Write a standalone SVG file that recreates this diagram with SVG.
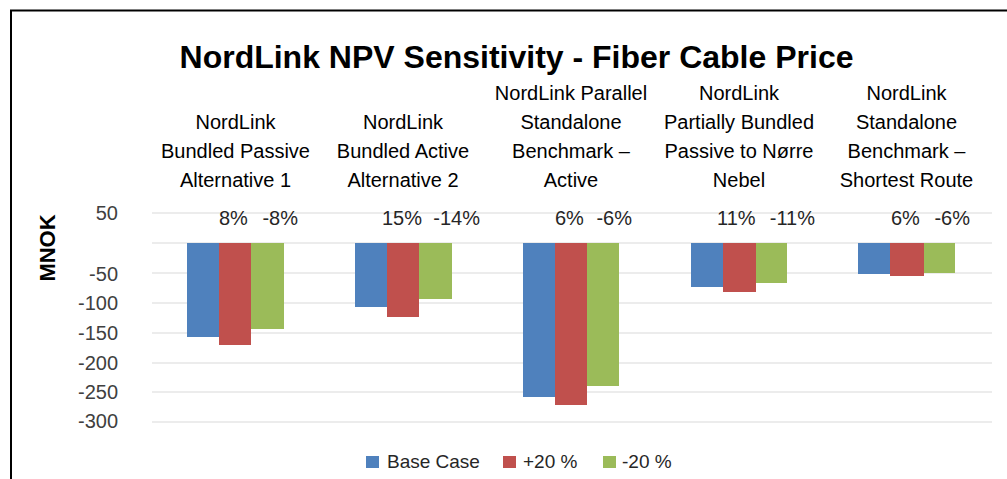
<svg xmlns="http://www.w3.org/2000/svg" width="1007" height="479" viewBox="0 0 1007 479">
<style>
text{font-family:"Liberation Sans",Arial,sans-serif;fill:#262626}
.t{font-size:32px;font-weight:bold;fill:#000}
.ax{font-size:22px;font-weight:bold;fill:#000}
.yl{font-size:20px;text-anchor:end;fill:#404040}
.cl{font-size:20px;text-anchor:middle;fill:#000}
.pc{font-size:20px;fill:#262626}
.lg{font-size:19px;fill:#262626}
.grid line{stroke:#D9D9D9;stroke-width:1.2}
.b{fill:#4F81BD}.r{fill:#C0504D}.g{fill:#9BBB59}
</style>
<rect x="0" y="0" width="1007" height="479" fill="#fff"/>
<path d="M11,479 V10.5 H1007" fill="none" stroke="#000" stroke-width="2"/>
<text class="t" x="516.5" y="68" text-anchor="middle">NordLink NPV Sensitivity - Fiber Cable Price</text>
<text class="ax" transform="translate(55,248) rotate(-90)" text-anchor="middle">MNOK</text>
<g class="grid">
<line x1="152" y1="213" x2="992" y2="213"/>
<line x1="152" y1="243" x2="992" y2="243"/>
<line x1="152" y1="273" x2="992" y2="273"/>
<line x1="152" y1="303" x2="992" y2="303"/>
<line x1="152" y1="333" x2="992" y2="333"/>
<line x1="152" y1="363" x2="992" y2="363"/>
<line x1="152" y1="392" x2="992" y2="392"/>
<line x1="152" y1="422" x2="992" y2="422"/>
</g>
<g id="yaxis">
<text class="yl" x="118" y="220">50</text>
<text class="yl" x="118" y="281">-50</text>
<text class="yl" x="118" y="310">-100</text>
<text class="yl" x="118" y="340">-150</text>
<text class="yl" x="118" y="370">-200</text>
<text class="yl" x="118" y="399">-250</text>
<text class="yl" x="118" y="428">-300</text>
</g>
<g id="group1">
<rect class="b" x="187" y="243" width="32" height="94"/>
<rect class="r" x="219" y="243" width="32" height="102"/>
<rect class="g" x="251" y="243" width="33" height="86"/>
<text class="cl" x="235.5" y="129">NordLink</text>
<text class="cl" x="235.5" y="158">Bundled Passive</text>
<text class="cl" x="235.5" y="187">Alternative 1</text>
<text class="pc" x="219" y="225">8%</text>
<text class="pc" x="298" y="225" text-anchor="end">-8%</text>
</g>
<g id="group2">
<rect class="b" x="355" y="243" width="32" height="64"/>
<rect class="r" x="387" y="243" width="32" height="74"/>
<rect class="g" x="419" y="243" width="33" height="56"/>
<text class="cl" x="403" y="129">NordLink</text>
<text class="cl" x="403" y="158">Bundled Active</text>
<text class="cl" x="403" y="187">Alternative 2</text>
<text class="pc" x="382" y="225">15%</text>
<text class="pc" x="480" y="225" text-anchor="end">-14%</text>
</g>
<g id="group3">
<rect class="b" x="523" y="243" width="32" height="154"/>
<rect class="r" x="555" y="243" width="32" height="162"/>
<rect class="g" x="587" y="243" width="32" height="143"/>
<text class="cl" x="571" y="100">NordLink Parallel</text>
<text class="cl" x="571" y="129">Standalone</text>
<text class="cl" x="571" y="158">Benchmark –</text>
<text class="cl" x="571" y="187">Active</text>
<text class="pc" x="555" y="225">6%</text>
<text class="pc" x="632" y="225" text-anchor="end">-6%</text>
</g>
<g id="group4">
<rect class="b" x="691" y="243" width="32" height="44"/>
<rect class="r" x="723" y="243" width="33" height="49"/>
<rect class="g" x="756" y="243" width="31" height="40"/>
<text class="cl" x="739" y="100">NordLink</text>
<text class="cl" x="739" y="129">Partially Bundled</text>
<text class="cl" x="739" y="158">Passive to Nørre</text>
<text class="cl" x="739" y="187">Nebel</text>
<text class="pc" x="717" y="225">11%</text>
<text class="pc" x="815" y="225" text-anchor="end">-11%</text>
</g>
<g id="group5">
<rect class="b" x="858" y="243" width="32" height="31"/>
<rect class="r" x="890" y="243" width="34" height="33"/>
<rect class="g" x="924" y="243" width="31" height="30"/>
<text class="cl" x="906.5" y="100">NordLink</text>
<text class="cl" x="906.5" y="129">Standalone</text>
<text class="cl" x="906.5" y="158">Benchmark –</text>
<text class="cl" x="906.5" y="187">Shortest Route</text>
<text class="pc" x="891" y="225">6%</text>
<text class="pc" x="970" y="225" text-anchor="end">-6%</text>
</g>
<g id="legend">
<rect class="b" x="366" y="456" width="13" height="12"/>
<text class="lg" x="387" y="468">Base Case</text>
<rect class="r" x="503" y="456" width="13" height="12"/>
<text class="lg" x="523" y="468">+20 %</text>
<rect class="g" x="603" y="456" width="13" height="12"/>
<text class="lg" x="622" y="468">-20 %</text>
</g>
</svg>
